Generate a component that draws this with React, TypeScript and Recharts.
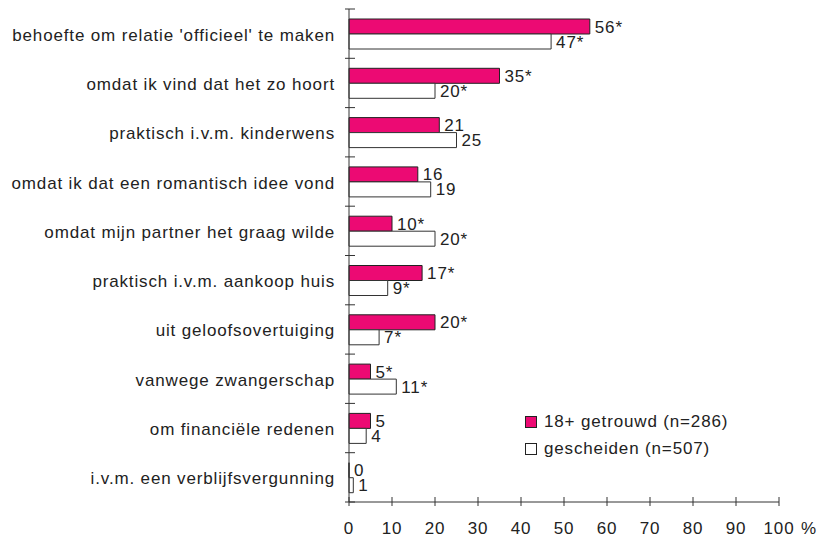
import * as React from "react";
import { BarChart, Bar, XAxis, YAxis, LabelList } from "recharts";

const categories = [
  "behoefte om relatie 'officieel' te maken",
  "omdat ik vind dat het zo hoort",
  "praktisch i.v.m. kinderwens",
  "omdat ik dat een romantisch idee vond",
  "omdat mijn partner het graag wilde",
  "praktisch i.v.m. aankoop huis",
  "uit geloofsovertuiging",
  "vanwege zwangerschap",
  "om financiële redenen",
  "i.v.m. een verblijfsvergunning",
];

const getrouwd = [56, 35, 21, 16, 10, 17, 20, 5, 5, 0];
const getrouwdLabels = ["56*", "35*", "21", "16", "10*", "17*", "20*", "5*", "5", "0"];
const gescheiden = [47, 20, 25, 19, 20, 9, 7, 11, 4, 1];
const gescheidenLabels = ["47*", "20*", "25", "19", "20*", "9*", "7*", "11*", "4", "1"];
const xTicks = [0, 10, 20, 30, 40, 50, 60, 70, 80, 90, 100];

const data = categories.map((name, i) => ({
  name,
  getrouwd: getrouwd[i],
  gescheiden: gescheiden[i],
  gLabel: getrouwdLabels[i],
  sLabel: gescheidenLabels[i],
}));

const PINK = "#EC0A73";
const FONT = "'Liberation Sans', Arial, sans-serif";
const FS = 17;
const LS = 0.85;
const TOP = 9;
const BOTTOM = 502;
const BAND = (BOTTOM - TOP) / categories.length;

function YTick(props: any) {
  const { x, y, payload, index } = props;
  return (
    <g>
      <line x1={x - 4} x2={x + 6} y1={y - BAND / 2} y2={y - BAND / 2} stroke="#333" />
      {index === categories.length - 1 && (
        <line x1={x - 4} x2={x + 6} y1={y + BAND / 2} y2={y + BAND / 2} stroke="#333" />
      )}
      <text x={x - 14} y={y} dy={7} textAnchor="end" fontSize={FS} letterSpacing={LS} fill="#222" fontFamily={FONT}>
        {payload.value}
      </text>
    </g>
  );
}

function XTick(props: any) {
  const { x, y, payload } = props;
  return (
    <g>
      <line x1={x} x2={x} y1={y - 5} y2={y + 4} stroke="#333" />
      <text x={x} y={y + 32} textAnchor="middle" fontSize={FS} letterSpacing={LS} fill="#222" fontFamily={FONT}>
        {payload.value}
      </text>
      {payload.value === 100 && (
        <text x={x + 22} y={y + 32} textAnchor="start" fontSize={FS} fill="#222" fontFamily={FONT}>
          %
        </text>
      )}
    </g>
  );
}

function LegendBox() {
  const items = [
    { label: "18+ getrouwd (n=286)", fill: PINK },
    { label: "gescheiden (n=507)", fill: "#fff" },
  ];
  return (
    <div
      style={{
        position: "absolute",
        left: 525,
        top: 408,
        fontFamily: FONT,
        fontSize: FS,
        letterSpacing: LS,
        color: "#222",
      }}
    >
      {items.map((it) => (
        <div key={it.label} style={{ display: "flex", alignItems: "center", height: 27, whiteSpace: "nowrap" }}>
          <span
            style={{
              display: "inline-block",
              width: 10,
              height: 10,
              background: it.fill,
              border: "1px solid #222",
              marginRight: 7,
            }}
          />
          {it.label}
        </div>
      ))}
    </div>
  );
}

export default function App() {
  return (
    <div style={{ position: "absolute", left: 0, top: 0, width: 820, height: 537, background: "#fff" }}>
      <BarChart
        width={820}
        height={537}
        data={data}
        layout="vertical"
        margin={{ top: TOP, right: 41, bottom: 0, left: 0 }}
        barCategoryGap={10}
        barGap={0}
      >
        <XAxis
          type="number"
          domain={[0, 100]}
          ticks={xTicks}
          height={537 - BOTTOM}
          axisLine={{ stroke: "#333" }}
          tickLine={false}
          tickSize={0}
          tickMargin={0}
          tick={<XTick />}
          interval={0}
        />
        <YAxis
          type="category"
          dataKey="name"
          width={349}
          axisLine={{ stroke: "#333" }}
          tickLine={false}
          tickSize={0}
          tickMargin={0}
          tick={<YTick />}
          interval={0}
        />
        <Bar dataKey="getrouwd" fill={PINK} stroke="#222" strokeWidth={1} minPointSize={0.01} isAnimationActive={false}>
          <LabelList dataKey="gLabel" position="right" offset={5} fontSize={FS} letterSpacing={LS} fill="#222" fontFamily={FONT} />
        </Bar>
        <Bar dataKey="gescheiden" fill="#fff" stroke="#333" strokeWidth={1} isAnimationActive={false}>
          <LabelList dataKey="sLabel" position="right" offset={5} fontSize={FS} letterSpacing={LS} fill="#222" fontFamily={FONT} />
        </Bar>
      </BarChart>
      <LegendBox />
    </div>
  );
}
